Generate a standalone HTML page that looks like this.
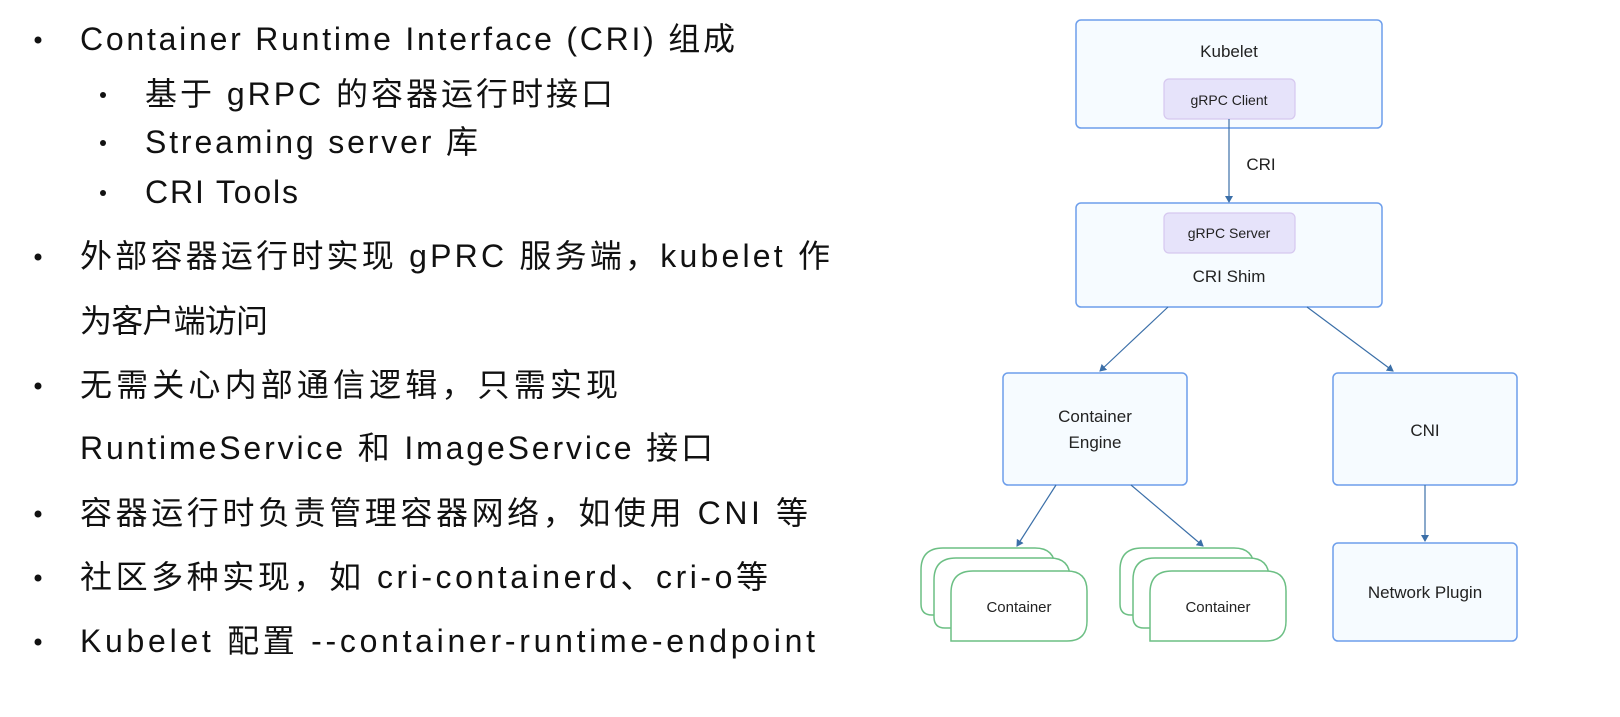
<!DOCTYPE html>
<html><head><meta charset="utf-8"><style>
html,body{margin:0;padding:0;background:#fff;width:1620px;height:717px;overflow:hidden}
</style></head><body>
<svg width="1620" height="717" xmlns="http://www.w3.org/2000/svg">
<defs><marker id="a" markerWidth="8" markerHeight="8" refX="6" refY="4" orient="auto" markerUnits="userSpaceOnUse"><path d="M0,0 L7,4 L0,8 z" fill="#3b6fa8"/></marker></defs>
<g font-family="'Liberation Sans','Noto Sans CJK SC',sans-serif" font-size="32" fill="#111">
<g fill="#111"><circle cx="38" cy="40" r="3.5"/><circle cx="103" cy="95" r="3"/><circle cx="103" cy="143" r="3"/><circle cx="103" cy="193" r="3"/><circle cx="38" cy="257" r="3.5"/><circle cx="38" cy="386" r="3.5"/><circle cx="38" cy="514" r="3.5"/><circle cx="38" cy="578" r="3.5"/><circle cx="38" cy="642" r="3.5"/></g>
<text x="80" y="50" textLength="655" lengthAdjust="spacing">Container Runtime Interface (CRI) 组成</text>
<text x="145" y="105" textLength="468" lengthAdjust="spacing">基于 gRPC 的容器运行时接口</text>
<text x="145" y="153" textLength="333" lengthAdjust="spacing">Streaming server 库</text>
<text x="145" y="203" textLength="153" lengthAdjust="spacing">CRI Tools</text>
<text x="80" y="267" textLength="750" lengthAdjust="spacing">外部容器运行时实现 gPRC 服务端，kubelet 作</text>
<text x="80" y="332" textLength="188" lengthAdjust="spacing">为客户端访问</text>
<text x="80" y="396" textLength="538" lengthAdjust="spacing">无需关心内部通信逻辑，只需实现</text>
<text x="80" y="459" textLength="633" lengthAdjust="spacing">RuntimeService 和 ImageService 接口</text>
<text x="80" y="524" textLength="728" lengthAdjust="spacing">容器运行时负责管理容器网络，如使用 CNI 等</text>
<text x="80" y="588" textLength="688" lengthAdjust="spacing">社区多种实现，如 cri-containerd、cri-o等</text>
<text x="80" y="652" textLength="735" lengthAdjust="spacing">Kubelet 配置 --container-runtime-endpoint</text>
</g>
<g font-family="'Liberation Sans',sans-serif" fill="#222" text-anchor="middle">
<g fill="#f6fbff" stroke="#6d9eeb" stroke-width="1.5">
<rect x="1076" y="20" width="306" height="108" rx="5"/>
<rect x="1076" y="203" width="306" height="104" rx="5"/>
<rect x="1003" y="373" width="184" height="112" rx="5"/>
<rect x="1333" y="373" width="184" height="112" rx="5"/>
<rect x="1333" y="543" width="184" height="98" rx="5"/>
</g>
<g fill="#e6e3fa" stroke="#d6c8ef" stroke-width="1.2">
<rect x="1164" y="79" width="131" height="40" rx="5"/>
<rect x="1164" y="213" width="131" height="40" rx="5"/>
</g>
<text x="1229" y="57" font-size="17">Kubelet</text>
<text x="1229" y="105" font-size="14">gRPC Client</text>
<text x="1229" y="238" font-size="14">gRPC Server</text>
<text x="1229" y="282" font-size="17">CRI Shim</text>
<text x="1261" y="170" font-size="17">CRI</text>
<text x="1095" y="422" font-size="17">Container</text>
<text x="1095" y="448" font-size="17">Engine</text>
<text x="1425" y="436" font-size="17">CNI</text>
<text x="1425" y="598" font-size="17">Network Plugin</text>
<g stroke="#3b6fa8" stroke-width="1.2" fill="none" marker-end="url(#a)">
<line x1="1229" y1="119" x2="1229" y2="202"/>
<line x1="1168" y1="307" x2="1100" y2="371"/>
<line x1="1307" y1="307" x2="1393" y2="371"/>
<line x1="1056" y1="485" x2="1017" y2="546"/>
<line x1="1131" y1="485" x2="1203" y2="546"/>
<line x1="1425" y1="485" x2="1425" y2="541"/>
</g>
<g fill="#fff" stroke="#6cbf84" stroke-width="1.5">
<path d="M938,615 L932,615 Q921,615 921,604 L921,570 Q921,548 943,548 L1035,548 Q1055,548 1055,568"/>
<path d="M951,628 L945,628 Q934,628 934,617 L934,580 Q934,558 956,558 L1050,558 Q1070,558 1070,578"/>
<path d="M951,641 L951,593 Q951,571 973,571 L1067,571 Q1087,571 1087,591 L1087,621 Q1087,641 1067,641 Z"/>
<path d="M1137,615 L1131,615 Q1120,615 1120,604 L1120,570 Q1120,548 1142,548 L1234,548 Q1254,548 1254,568"/>
<path d="M1150,628 L1144,628 Q1133,628 1133,617 L1133,580 Q1133,558 1155,558 L1249,558 Q1269,558 1269,578"/>
<path d="M1150,641 L1150,593 Q1150,571 1172,571 L1266,571 Q1286,571 1286,591 L1286,621 Q1286,641 1266,641 Z"/>
</g>
<text x="1019" y="612" font-size="15">Container</text>
<text x="1218" y="612" font-size="15">Container</text>
</g>
</svg>
</body></html>
